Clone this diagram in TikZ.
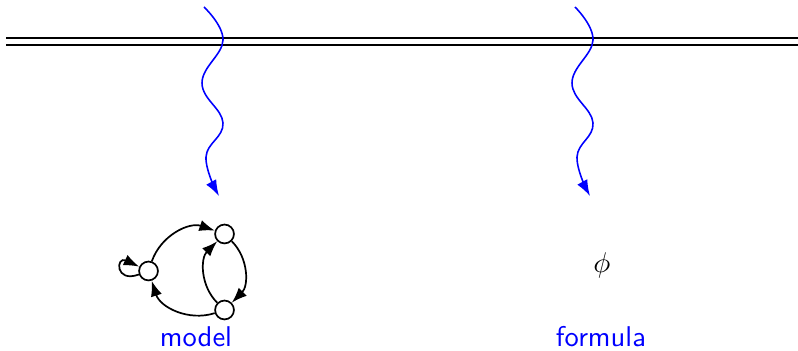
\documentclass[tikz,border=0pt]{standalone}
\usetikzlibrary{arrows.meta}
\begin{document}
\begin{tikzpicture}[x=0.35pt,y=0.35pt,
  st/.style={circle,draw,fill=white,minimum size=6.6pt,inner sep=0pt,line width=0.6pt},
  ed/.style={line width=0.6pt,-{Latex[length=5.4pt,width=4pt]}},
  wave/.style={blue,line width=0.55pt,-{Latex[length=5.6pt,width=4pt]}},
  lab/.style={blue,font=\sffamily\fontsize{10}{12}\selectfont},
  rail/.style={line width=0.6pt}]
\useasboundingbox (0,0) rectangle (798,-351);
% rails
\coordinate (r1a) at (6,-38);  \coordinate (r1b) at (798,-38);
\coordinate (r2a) at (6,-45);  \coordinate (r2b) at (798,-45);
\draw[rail] (r1a) -- (r1b);
\draw[rail] (r2a) -- (r2b);
% wavy arrows
\coordinate (a1) at (204,-7);
\coordinate (a2) at (223,-40);
\coordinate (a3) at (202,-83);
\coordinate (a4) at (223,-123);
\coordinate (a5) at (206,-157);
\coordinate (a6) at (219,-196);
\draw[wave] plot[smooth,tension=0.7] coordinates {(a1) (a2) (a3) (a4) (a5) (a6)};
\coordinate (b1) at (575,-7);
\coordinate (b2) at (593,-40);
\coordinate (b3) at (572,-83);
\coordinate (b4) at (593,-123);
\coordinate (b5) at (577,-157);
\coordinate (b6) at (590,-196);
\draw[wave] plot[smooth,tension=0.7] coordinates {(b1) (b2) (b3) (b4) (b5) (b6)};
% model graph
\node[st] (A) at (148.5,-271) {};
\node[st] (B) at (224.5,-234) {};
\node[st] (C) at (224.5,-310) {};
\draw[ed] (A) to[bend left=45] (B);
\draw[ed] (B) to[bend left=45] (C);
\draw[ed] (C) to[bend left=45] (B);
\draw[ed] (C) to[bend left=45] (A);
\draw[ed] (A) to[loop,out=200,in=155,looseness=2,min distance=9pt] (A);
% formula
\node (phi) at (602,-265) {$\phi$};
% labels
\node[lab,anchor=base] (lm) at (196,-347) {model};
\node[lab,anchor=base] (lf) at (601,-347) {formula};
\end{tikzpicture}
\end{document}
